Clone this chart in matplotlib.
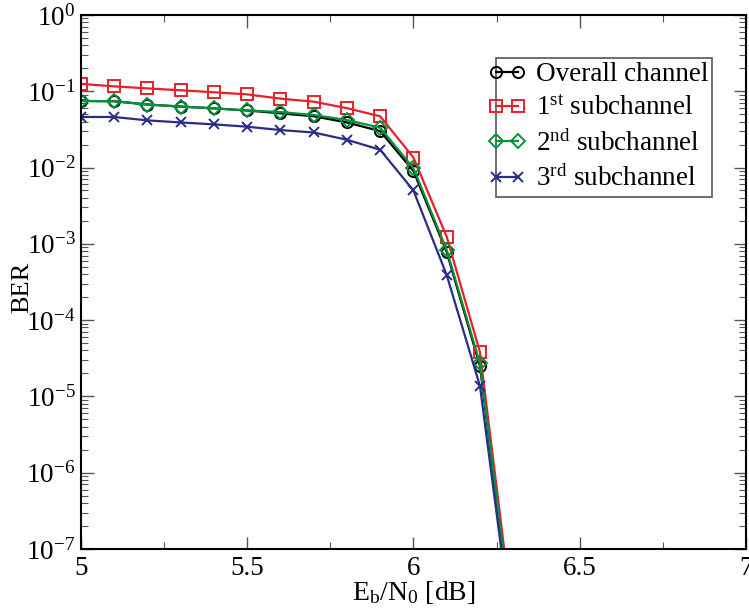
import matplotlib
matplotlib.use("Agg")
import matplotlib.pyplot as plt
from matplotlib.lines import Line2D
from matplotlib.legend_handler import HandlerLine2D
from matplotlib.ticker import LogLocator, MultipleLocator, NullFormatter

plt.rcParams["font.family"] = ["Liberation Serif", "DejaVu Serif"]
plt.rcParams["mathtext.fontset"] = "custom"
plt.rcParams["mathtext.rm"] = "Liberation Serif"
plt.rcParams["mathtext.it"] = "Liberation Serif:italic"
plt.rcParams["mathtext.bf"] = "Liberation Serif:bold"

ebn0 = [5.0, 5.1, 5.2, 5.3, 5.4, 5.5, 5.6, 5.7, 5.8, 5.9, 6.0, 6.1, 6.2, 6.3]

ber_overall = [0.0746, 0.074, 0.067, 0.063, 0.0597, 0.056, 0.0514, 0.047,
               0.039, 0.030, 0.0090, 7.8e-4, 2.5e-5, 8e-9]
ber_sub1 = [0.125, 0.116, 0.109, 0.103, 0.097, 0.091, 0.080, 0.073,
            0.060, 0.047, 0.0135, 1.24e-3, 3.8e-5, 1.1e-8]
ber_sub2 = [0.0746, 0.074, 0.067, 0.063, 0.0597, 0.056, 0.0534, 0.0488,
            0.042, 0.0333, 0.0098, 8.3e-4, 2.7e-5, 8e-9]
ber_sub3 = [0.046, 0.046, 0.0415, 0.039, 0.0368, 0.0343, 0.031, 0.0288,
            0.0231, 0.0171, 0.0050, 3.9e-4, 1.37e-5, 6.3e-9]

labels = ["Overall channel",
          r"1$^{\mathrm{st}}$ subchannel",
          r"2$^{\mathrm{nd}}$ subchannel",
          r"3$^{\mathrm{rd}}$ subchannel"]

fig = plt.figure(figsize=(7.49, 6.14), dpi=100)
ax = fig.add_axes([0.108, 0.106, 0.888, 0.8696])

ax.plot(ebn0, ber_overall, color="black", marker="o", mfc="none", ms=8,
        mew=1.4, lw=1.6, label=labels[0])
ax.plot(ebn0, ber_sub1, color="#e8202a", marker="s", mfc="none", ms=8.5,
        mew=1.4, lw=1.6, label=labels[1])
ax.plot(ebn0, ber_sub2, color="#00933c", marker="D", mfc="none", ms=7.5,
        mew=1.4, lw=1.6, label=labels[2])
ax.plot(ebn0, ber_sub3, color="#2a2c88", marker="x", ms=7,
        mew=1.4, lw=1.6, label=labels[3])

ax.set_yscale("log")
ax.set_xlim(5, 7)
ax.set_ylim(1e-7, 1)
ax.xaxis.set_major_locator(MultipleLocator(0.5))
ax.xaxis.set_minor_locator(MultipleLocator(0.25))
ax.yaxis.set_major_locator(LogLocator(base=10, numticks=10))
ax.yaxis.set_minor_locator(LogLocator(base=10, subs=range(2, 10), numticks=10))
ax.yaxis.set_minor_formatter(NullFormatter())

ax.tick_params(which="both", direction="in", top=True, right=True,
               labelsize=19.5, color="#555555")
ax.tick_params(which="major", length=9, width=1.0)
ax.tick_params(which="minor", length=5, width=0.8)
ax.tick_params(axis="x", pad=5)
ax.tick_params(axis="y", pad=4)
for s in ax.spines.values():
    s.set_linewidth(1.5)

ax.set_xticks([5, 5.5, 6, 6.5, 7])
ax.set_xticklabels(["5", "5.5", "6", "6.5", "7"])

ax.set_xlabel(r"E$_{\mathrm{b}}$/N$_{0}$ [dB]", fontsize=20, labelpad=-1)
ax.set_ylabel("BER", fontsize=19)
ax.yaxis.set_label_coords(-0.072, 0.49)

leg = ax.legend(loc="upper left", bbox_to_anchor=(0.624, 0.9195),
                fontsize=19.5, numpoints=2, handlelength=0.67,
                handletextpad=0.66, borderpad=0.15, labelspacing=0.34,
                borderaxespad=0, fancybox=False, framealpha=1,
                edgecolor="#555555",
                handler_map={Line2D: HandlerLine2D(marker_pad=0.0, xpad=-0.15)})
leg.get_frame().set_linewidth(1.2)

fig.savefig("out.png", dpi=100)
